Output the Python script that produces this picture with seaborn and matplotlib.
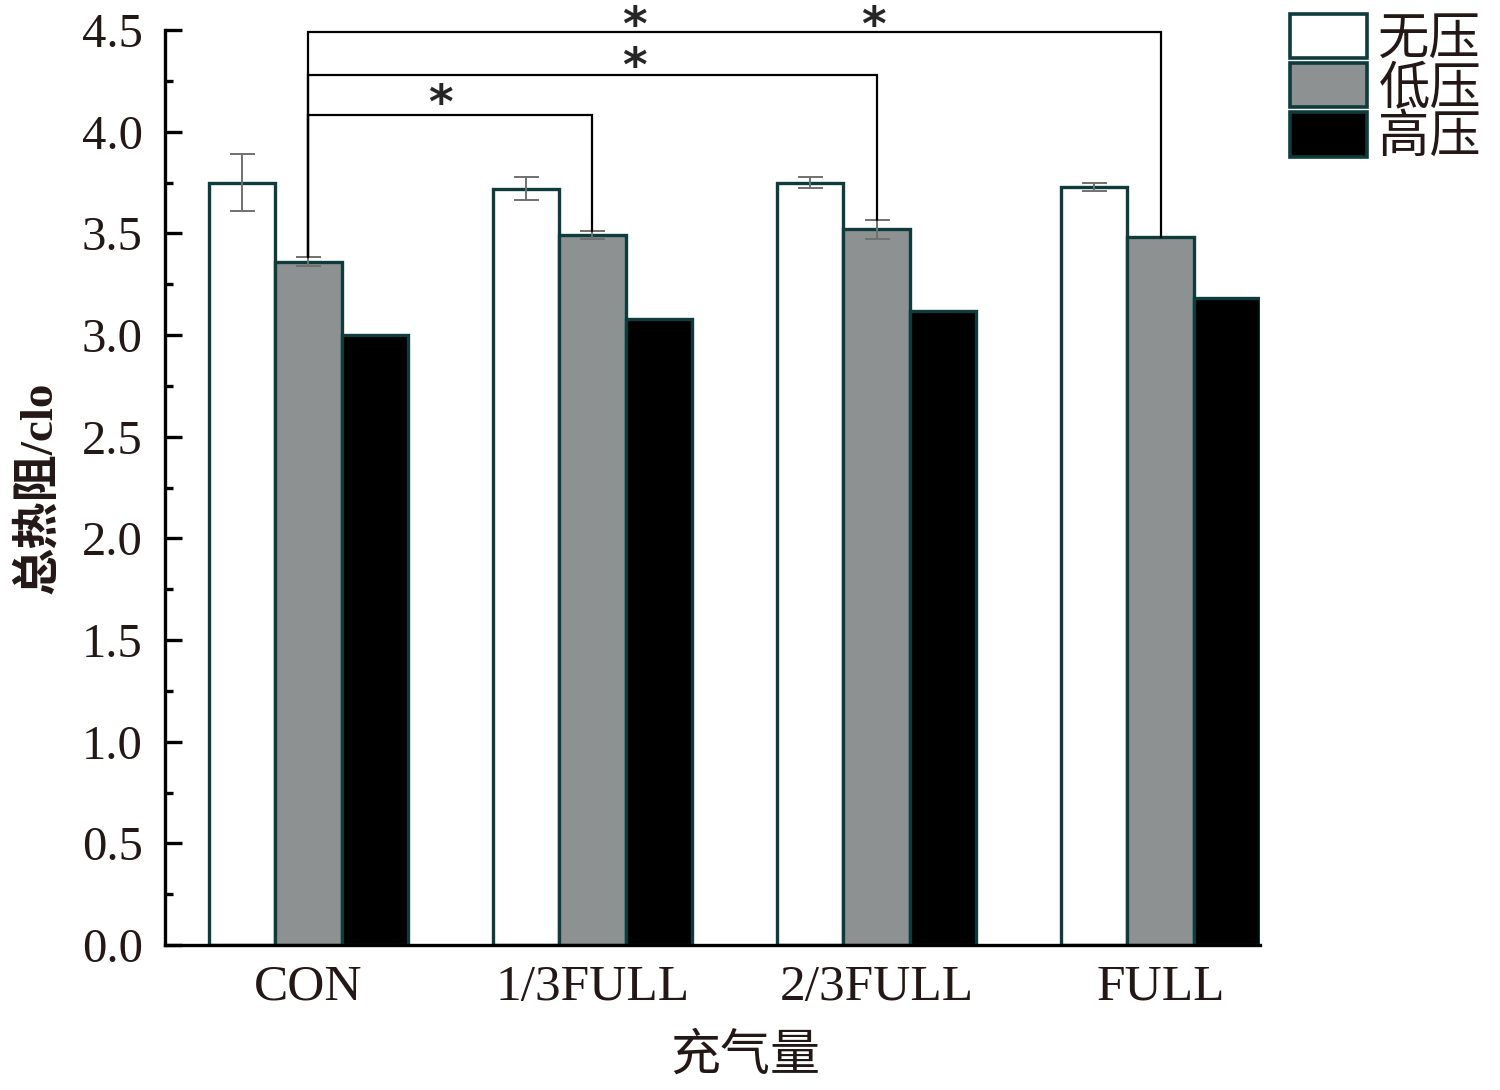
import numpy as np
import pandas as pd
import matplotlib
matplotlib.use("Agg")
import matplotlib.pyplot as plt
from matplotlib.patches import Patch
from matplotlib.ticker import MultipleLocator, FormatStrFormatter
import seaborn as sns

# ---------------- data ----------------
categories = ["CON", "1/3FULL", "2/3FULL", "FULL"]
pressure_levels = ["无压", "低压", "高压"]
no_pressure = [3.75, 3.72, 3.75, 3.73]
low_pressure = [3.36, 3.49, 3.52, 3.48]
high_pressure = [3.00, 3.08, 3.12, 3.18]
no_pressure_err = [0.14, 0.055, 0.025, 0.02]
low_pressure_err = [0.022, 0.02, 0.047, 0.0]
high_pressure_err = [0.0, 0.0, 0.0, 0.0]

# significance brackets (CON low-pressure vs others, low pressure)
sig_targets = [1, 2, 3]
sig_levels = [4.08, 4.28, 4.49]
star_x = [0.465, 1.148, 1.148, 1.99]
star_y = [4.13, 4.31, 4.51, 4.51]

x_label = "充气量"
y_label = "总热阻/clo"

# ---------------- style ----------------
sns.set_theme(style="ticks")
plt.rcParams["font.family"] = ["Liberation Serif", "Noto Sans CJK SC", "DejaVu Sans"]

colors = ["#ffffff", "#8e9192", "#000000"]
edge = "#0e3b3c"

df = pd.DataFrame({
    "cat": categories * 3,
    "val": no_pressure + low_pressure + high_pressure,
    "press": [pressure_levels[0]] * 4 + [pressure_levels[1]] * 4 + [pressure_levels[2]] * 4,
})
errs = [no_pressure_err, low_pressure_err, high_pressure_err]

fig = plt.figure(figsize=(15, 10.9), dpi=100)
ax = fig.add_axes([165 / 1500, 1 - 945 / 1090, 1095 / 1500, 915 / 1090])

sns.barplot(data=df, x="cat", y="val", hue="press", order=categories,
            hue_order=pressure_levels, palette=colors, saturation=1,
            width=0.7, edgecolor=edge, linewidth=2.4, errorbar=None,
            legend=False, ax=ax)
bar_conts = list(ax.containers)

# error bars from bar geometry
for j, cont in enumerate(bar_conts):
    for i, bar in enumerate(cont):
        e = errs[j][i]
        if e > 0:
            xc = bar.get_x() + bar.get_width() / 2
            ax.errorbar(xc, bar.get_height(), yerr=e, fmt="none",
                        ecolor="#707070", elinewidth=1.4, capsize=9,
                        capthick=1.4, zorder=4)

# significance brackets
base_bar = bar_conts[1][0]
x0 = base_bar.get_x() + base_bar.get_width() / 2
y0 = low_pressure[0] + low_pressure_err[0]
for t, lev in zip(sig_targets, sig_levels):
    b = bar_conts[1][t]
    xt = b.get_x() + b.get_width() / 2
    yt = low_pressure[t] + low_pressure_err[t]
    ax.plot([x0, x0, xt, xt], [y0, lev, lev, yt], color="black", lw=1.6,
            clip_on=False, zorder=5, solid_joinstyle="miter")
for sx, sy in zip(star_x, star_y):
    ax.text(sx, sy, "*", ha="center", va="center", fontsize=34,
            fontweight="bold", family="DejaVu Sans", clip_on=False)

ax.set_ylim(0, 4.5)
ax.set_xlim(-0.505, 3.35)
ax.yaxis.set_major_locator(MultipleLocator(0.5))
ax.yaxis.set_minor_locator(MultipleLocator(0.25))
ax.yaxis.set_major_formatter(FormatStrFormatter("%.1f"))
sns.despine(ax=ax)
for s in ["left", "bottom"]:
    ax.spines[s].set_linewidth(2.4)
    ax.spines[s].set_color("black")
ax.tick_params(axis="y", which="major", direction="in", length=12, width=2.4,
               labelsize=35, pad=16, color="black", labelcolor="#231815")
ax.tick_params(axis="y", which="minor", direction="in", length=6, width=2.4,
               color="black")
ax.tick_params(axis="x", which="both", length=0, labelsize=37, pad=14,
               labelcolor="#231815")

ax.set_xlabel(x_label, fontsize=36, color="#231815", va="center")
ax.xaxis.set_label_coords(0.53, -0.123)
ax.set_ylabel(y_label, fontsize=34, fontweight="bold", color="#231815", va="center")
ax.yaxis.set_label_coords(-0.115, 0.5)

handles = [Patch(facecolor=c, edgecolor=edge, linewidth=2.6) for c in colors]
fig.legend(handles, pressure_levels, loc="upper left",
           bbox_to_anchor=(1290 / 1500, 1 - 12 / 1090), frameon=False,
           prop={"family": ["Noto Sans CJK SC"], "size": 37},
           handlelength=1.5, handleheight=0.95, labelspacing=-0.08,
           handletextpad=0.22, borderpad=0, borderaxespad=0,
           labelcolor="#231815")

fig.savefig("out.png", dpi=100)
